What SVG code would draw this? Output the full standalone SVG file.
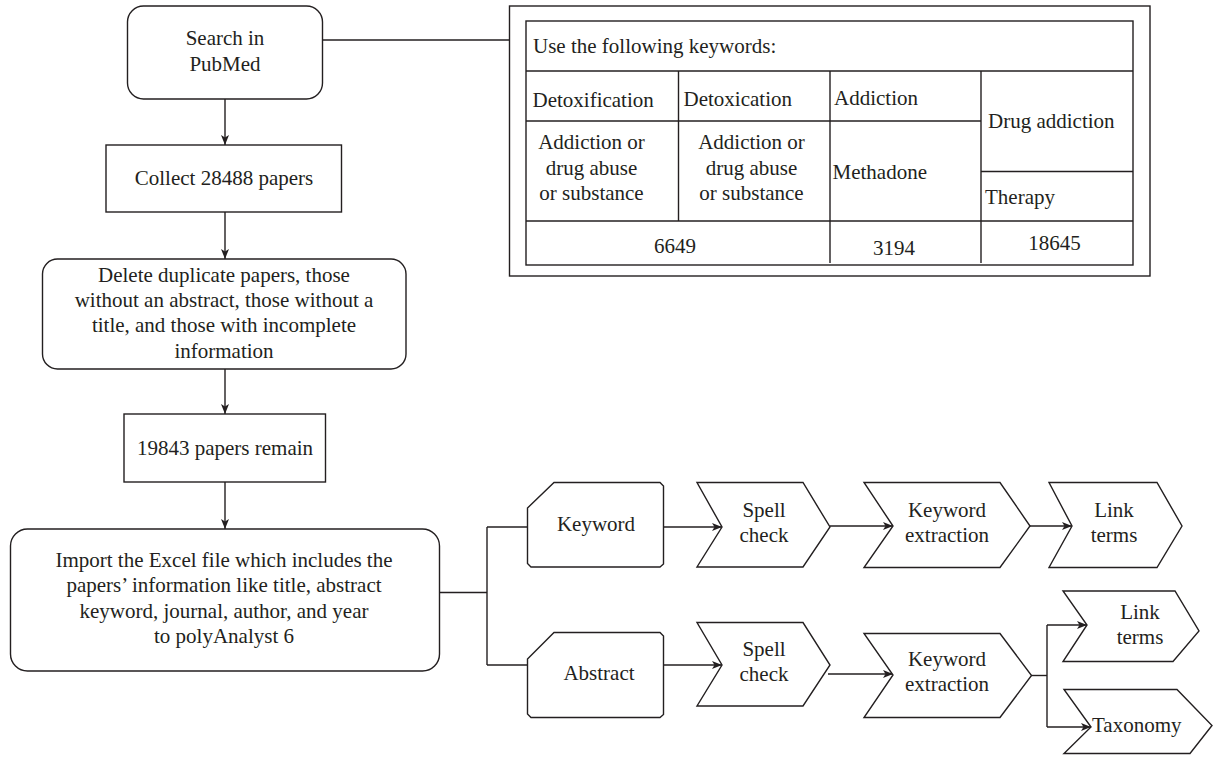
<svg xmlns="http://www.w3.org/2000/svg" width="1213" height="761" viewBox="0 0 1213 761">
<defs>
<style>
.s{fill:#fff;stroke:#231f20;stroke-width:1.4}
.l{fill:none;stroke:#231f20;stroke-width:1.4}
.t{font-family:"Liberation Serif","Times New Roman",serif;font-size:21px;fill:#231f20}
.m{text-anchor:middle}
</style>
<marker id="ah" viewBox="0 0 10 8" refX="10" refY="4" markerWidth="10" markerHeight="8" markerUnits="userSpaceOnUse" orient="auto">
<path d="M0,0 L10,4 L0,8 L2.5,4 Z" fill="#231f20"/>
</marker>
</defs>
<rect width="1213" height="761" fill="#fff"/>

<g id="connectors">
<line class="l" x1="322" y1="40" x2="509" y2="40"/>
<line class="l" x1="225" y1="99" x2="225" y2="145" marker-end="url(#ah)"/>
<line class="l" x1="225" y1="212" x2="225" y2="259" marker-end="url(#ah)"/>
<line class="l" x1="225" y1="369" x2="225" y2="414" marker-end="url(#ah)"/>
<line class="l" x1="225" y1="482" x2="225" y2="529" marker-end="url(#ah)"/>
<line class="l" x1="439" y1="592.5" x2="487" y2="592.5"/>
<line class="l" x1="487" y1="527" x2="487" y2="665"/>
<line class="l" x1="487" y1="527" x2="527.5" y2="527"/>
<line class="l" x1="487" y1="665" x2="527.5" y2="665"/>
<line class="l" x1="663.5" y1="527" x2="722" y2="527" marker-end="url(#ah)"/>
<line class="l" x1="830" y1="526" x2="893" y2="526" marker-end="url(#ah)"/>
<line class="l" x1="1030" y1="526" x2="1072" y2="526" marker-end="url(#ah)"/>
<line class="l" x1="663.5" y1="665" x2="722" y2="665" marker-end="url(#ah)"/>
<line class="l" x1="828" y1="674" x2="893" y2="674" marker-end="url(#ah)"/>
<line class="l" x1="1031" y1="675.5" x2="1047" y2="675.5"/>
<line class="l" x1="1047" y1="625" x2="1047" y2="727"/>
<line class="l" x1="1047" y1="625" x2="1087" y2="625" marker-end="url(#ah)"/>
<line class="l" x1="1047" y1="727" x2="1091" y2="727" marker-end="url(#ah)"/>
</g>

<g id="search">
<rect class="s" x="127.5" y="6" width="195" height="93" rx="16"/>
<text class="t m" x="225" y="45">Search in</text>
<text class="t m" x="225" y="71">PubMed</text>
</g>

<g id="keywords-table">
<rect class="s" x="509.5" y="6" width="640.5" height="270"/>
<rect class="s" x="526" y="21" width="607" height="244"/>
<line class="l" x1="526" y1="71" x2="1133" y2="71"/>
<line class="l" x1="526" y1="121" x2="981" y2="121"/>
<line class="l" x1="981" y1="171.5" x2="1133" y2="171.5"/>
<line class="l" x1="526" y1="221" x2="1133" y2="221"/>
<line class="l" x1="678.5" y1="71" x2="678.5" y2="221"/>
<line class="l" x1="830" y1="71" x2="830" y2="263"/>
<line class="l" x1="981" y1="71" x2="981" y2="263"/>
<text class="t" x="533" y="53">Use the following keywords:</text>
<text class="t" x="532.5" y="107">Detoxification</text>
<text class="t" x="683.5" y="105.5">Detoxication</text>
<text class="t" x="834" y="104.5">Addiction</text>
<text class="t m" x="591.5" y="148.5">Addiction or</text>
<text class="t m" x="591.5" y="174.5">drug abuse</text>
<text class="t m" x="591.5" y="199.5">or substance</text>
<text class="t m" x="751.5" y="148.5">Addiction or</text>
<text class="t m" x="751.5" y="174.5">drug abuse</text>
<text class="t m" x="751.5" y="199.5">or substance</text>
<text class="t" x="832.5" y="179">Methadone</text>
<text class="t" x="988" y="128">Drug addiction</text>
<text class="t" x="985" y="204">Therapy</text>
<text class="t m" x="675" y="252.5">6649</text>
<text class="t m" x="894" y="255">3194</text>
<text class="t m" x="1054.5" y="249.5">18645</text>
</g>

<g id="collect">
<rect class="s" x="106" y="145" width="235.5" height="67"/>
<text class="t m" x="224" y="185">Collect 28488 papers</text>
</g>

<g id="delete">
<rect class="s" x="42.5" y="259" width="363.5" height="110" rx="15"/>
<text class="t m" x="224" y="282">Delete duplicate papers, those</text>
<text class="t m" x="224" y="307">without an abstract, those without a</text>
<text class="t m" x="224" y="332">title, and those with incomplete</text>
<text class="t m" x="224" y="357.5">information</text>
</g>

<g id="remain">
<rect class="s" x="124" y="414" width="201.5" height="68"/>
<text class="t m" x="225" y="455">19843 papers remain</text>
</g>

<g id="import">
<rect class="s" x="10.5" y="529" width="429" height="142" rx="17"/>
<text class="t m" x="224" y="567">Import the Excel file which includes the</text>
<text class="t m" x="224" y="592">papers’ information like title, abstract</text>
<text class="t m" x="224" y="617.5">keyword, journal, author, and year</text>
<text class="t m" x="224" y="643">to polyAnalyst 6</text>
</g>

<g id="keyword">
<path class="s" d="M527.5,508 L554,482.5 L660,482.5 L663.5,486 L663.5,564 L660,567 L531,567 L527.5,563.5 Z"/>
<text class="t m" x="596" y="531">Keyword</text>
</g>

<g id="spell1">
<path class="s" d="M697,482.5 L803,482.5 L830,527 L803,567 L697,567 L722,527 Z"/>
<text class="t m" x="764" y="517">Spell</text>
<text class="t m" x="764" y="542">check</text>
</g>

<g id="kwext1">
<path class="s" d="M864,482.5 L1000,482.5 L1030,526 L1000,567.5 L864,567.5 L893,526 Z"/>
<text class="t m" x="947" y="517">Keyword</text>
<text class="t m" x="947" y="542">extraction</text>
</g>

<g id="link1">
<path class="s" d="M1049,482.5 L1157,482.5 L1182,526 L1157,567.5 L1049,567.5 L1072,526 Z"/>
<text class="t m" x="1114" y="517">Link</text>
<text class="t m" x="1114" y="542">terms</text>
</g>

<g id="abstract">
<path class="s" d="M527.5,659 L554,632.5 L660,632.5 L663.5,636 L663.5,714.5 L660,717.5 L531,717.5 L527.5,714 Z"/>
<text class="t m" x="599" y="680">Abstract</text>
</g>

<g id="spell2">
<path class="s" d="M697,622.5 L803,622.5 L830,665 L803,706 L697,706 L722,665 Z"/>
<text class="t m" x="764" y="656">Spell</text>
<text class="t m" x="764" y="681">check</text>
</g>

<g id="kwext2">
<path class="s" d="M864,633.5 L1000,633.5 L1031.5,675.5 L1000,717.5 L864,717.5 L893,675 Z"/>
<text class="t m" x="947" y="666">Keyword</text>
<text class="t m" x="947" y="691">extraction</text>
</g>

<g id="link2">
<path class="s" d="M1063,591 L1175,591 L1199,631 L1173,661.5 L1063,661.5 L1087,625 Z"/>
<text class="t m" x="1140" y="619">Link</text>
<text class="t m" x="1140" y="644">terms</text>
</g>

<g id="taxonomy">
<path class="s" d="M1064,689.5 L1177,689.5 L1212,725.5 L1190,753.5 L1064,753.5 L1091,727 Z"/>
<text class="t" x="1092" y="732">Taxonomy</text>
</g>
</svg>
